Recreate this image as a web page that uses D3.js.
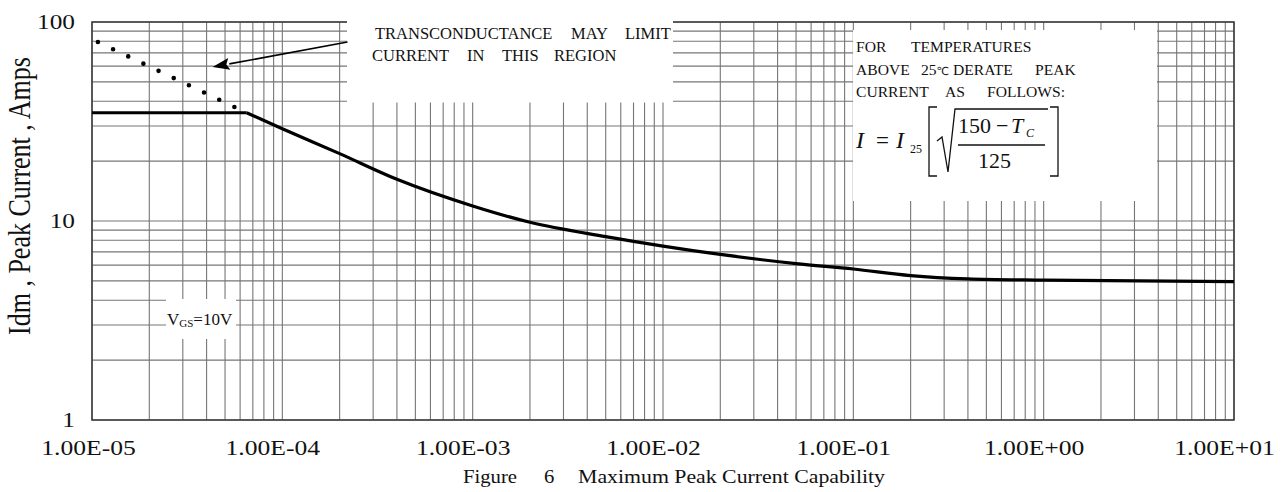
<!DOCTYPE html>
<html><head><meta charset="utf-8">
<script src="https://cdn.jsdelivr.net/npm/d3@7"></script>
<style>
html,body{margin:0;padding:0;background:#fff;}
svg{display:block;font-family:"Liberation Serif","Times New Roman",serif;}
</style></head><body>
<svg id="chart" width="1282" height="492"></svg>
<script>
// ---- data ----
const xTickValues = [1e-5, 1e-4, 1e-3, 1e-2, 1e-1, 1, 10];
const xTickLabels = ["1.00E-05", "1.00E-04", "1.00E-03", "1.00E-02", "1.00E-01", "1.00E+00", "1.00E+01"];
const yTickValues = [1, 10, 100];
const yTickLabels = ["1", "10", "100"];
// pulse width (s) vs peak current (A), VGS = 10 V
const pulseWidth  = [1e-5, 6.5e-5, 1e-4, 2e-4, 4e-4, 1e-3, 2e-3, 5e-3, 1e-2, 2e-2, 5e-2, 0.1, 0.2, 0.4, 1, 10];
const peakCurrent = [35,   35,     29.1, 21.8, 16.2, 11.9, 9.85, 8.35, 7.48, 6.79, 6.11, 5.74, 5.32, 5.12, 5.04, 4.96];
// transconductance-limited region (dotted)
const transPulse   = [1e-5, 5.6e-5];
const transCurrent = [82, 37.4];
// annotation arrow (tail -> tip) in data units
const arrowPulse   = [2.2e-4, 4.3e-5];
const arrowCurrent = [79.4, 59.4];
const yTitle = "Idm , Peak Current , Amps";
const caption = ["Figure", "6", "Maximum Peak Current Capability"];

// ---- layout ----
const L = 92, R = 1234, T = 22, B = 420;
const svg = d3.select("#chart");
const x = d3.scaleLog().domain([1e-5, 10]).range([L, R]);
const y = d3.scaleLog().domain([1, 100]).range([B, T]);

// grid
const grid = svg.append("g").attr("stroke", "#767676").attr("stroke-width", 1.1);
grid.selectAll("line.v").data(x.ticks()).join("line").attr("class", "v")
  .attr("x1", d => x(d)).attr("x2", d => x(d)).attr("y1", T).attr("y2", B);
grid.selectAll("line.h").data(y.ticks()).join("line").attr("class", "h")
  .attr("x1", L).attr("x2", R).attr("y1", d => y(d)).attr("y2", d => y(d));

// frame
svg.append("rect").attr("x", L).attr("y", T).attr("width", R - L).attr("height", B - T)
  .attr("fill", "none").attr("stroke", "#3a3a3a").attr("stroke-width", 1.5);

// white annotation boxes
const boxes = [[347, 17, 326, 85.5], [853, 30, 304, 171], [166, 299, 70, 40]];
svg.selectAll("rect.box").data(boxes).join("rect").attr("class", "box")
  .attr("x", d => d[0]).attr("y", d => d[1]).attr("width", d => d[2]).attr("height", d => d[3])
  .attr("fill", "#fff");

// curve
const pts = pulseWidth.map((t, i) => [t, peakCurrent[i]]);
const lineLin = d3.line().x(d => x(d[0])).y(d => y(d[1]));
const lineSmooth = d3.line().x(d => x(d[0])).y(d => y(d[1])).curve(d3.curveMonotoneX);
svg.append("path").attr("d", lineLin(pts.slice(0, 2))).attr("fill", "none")
  .attr("stroke", "#000").attr("stroke-width", 3.2);
svg.append("path").attr("d", lineSmooth(pts.slice(1))).attr("fill", "none")
  .attr("stroke", "#000").attr("stroke-width", 3.2).attr("stroke-linejoin", "round");

// dotted transconductance line
const tpts = transPulse.map((t, i) => [t, transCurrent[i]]);
const dotPath = svg.append("path").attr("d", lineLin(tpts)).attr("fill", "none")
  .attr("stroke", "#000").attr("stroke-width", 4.6).attr("stroke-linecap", "round");
const dlen = dotPath.node().getTotalLength();
const gap = 16.8;
dotPath.attr("stroke-dasharray", `0 ${gap}`).attr("stroke-dashoffset", -(dlen % gap) + 0.01);

// arrow
const ax0 = x(arrowPulse[0]), ay0 = y(arrowCurrent[0]), ax1 = x(arrowPulse[1]), ay1 = y(arrowCurrent[1]);
const ang = Math.atan2(ay1 - ay0, ax1 - ax0);
const hl = 17, hw = 6;
const bx = ax1 - hl * Math.cos(ang), by = ay1 - hl * Math.sin(ang);
svg.append("line").attr("x1", ax0).attr("y1", ay0).attr("x2", bx).attr("y2", by)
  .attr("stroke", "#000").attr("stroke-width", 1.6);
svg.append("path").attr("fill", "#000")
  .attr("d", `M${ax1},${ay1}L${bx + hw * Math.sin(ang)},${by - hw * Math.cos(ang)}L${bx + 3 * Math.cos(ang)},${by + 3 * Math.sin(ang)}L${bx - hw * Math.sin(ang)},${by + hw * Math.cos(ang)}Z`);

// axes
const xAxis = svg.append("g").attr("transform", `translate(0,${B})`)
  .call(d3.axisBottom(x).tickValues(xTickValues).tickSize(0).tickFormat((d, i) => xTickLabels[i]));
xAxis.select(".domain").remove();
xAxis.selectAll("text").attr("y", null).attr("dy", null)
  .attr("font-family", "Liberation Serif").attr("font-size", 21).attr("fill", "#111")
  .attr("transform", (d, i) => `translate(${i === 0 ? -4 : -10},35) scale(1.22,1)`);

const yAxis = svg.append("g").attr("transform", `translate(${L},0)`)
  .call(d3.axisLeft(y).tickValues(yTickValues).tickSize(0).tickFormat((d, i) => yTickLabels[i]));
yAxis.select(".domain").remove();
yAxis.selectAll("text").attr("x", null).attr("dy", null)
  .attr("font-family", "Liberation Serif").attr("font-size", 22).attr("fill", "#111")
  .attr("transform", "translate(-17,6) scale(1.15,1)");

// y title
svg.append("text").attr("transform", "translate(30,196) scale(1.2,1) rotate(-90)")
  .attr("text-anchor", "middle").attr("font-size", 26).attr("fill", "#111").text(yTitle);

// caption
svg.append("text").attr("transform", "translate(463,483) scale(1.15,1)").attr("font-size", 18).attr("fill", "#111").text(caption[0]);
svg.append("text").attr("transform", "translate(544,483) scale(1.15,1)").attr("font-size", 18).attr("fill", "#111").text(caption[1]);
svg.append("text").attr("x", 578).attr("y", 483).attr("font-size", 18).attr("fill", "#111")
  .attr("textLength", 307).attr("lengthAdjust", "spacingAndGlyphs").text(caption[2]);

// annotation texts
function words(lines, size) {
  lines.forEach(ln => {
    ln.w.forEach(([t, wx]) => {
      svg.append("text").attr("x", wx).attr("y", ln.y).attr("font-size", size).attr("fill", "#111").text(t);
    });
  });
}
words([
  {y: 39, w: [["TRANSCONDUCTANCE", 375], ["MAY", 571], ["LIMIT", 625]]},
  {y: 61, w: [["CURRENT", 372], ["IN", 467], ["THIS", 502], ["REGION", 554]]}
], 16.5);
words([
  {y: 52, w: [["FOR", 856], ["TEMPERATURES", 911]]},
  {y: 75, w: [["ABOVE", 856], ["DERATE", 953], ["PEAK", 1035]]},
  {y: 97, w: [["CURRENT", 856], ["AS", 945], ["FOLLOWS:", 987]]}
], 15.6);
const deg = svg.append("text").attr("x", 921).attr("y", 75).attr("font-size", 15.6).attr("fill", "#111");
deg.append("tspan").text("25");
deg.append("tspan").attr("font-size", 11).attr("font-family", "DejaVu Sans").text("℃");

// formula I = I25 [ sqrt((150 - Tc)/125) ]
const f = svg.append("g").attr("fill", "#111");
f.append("text").attr("x", 856).attr("y", 148).attr("font-size", 24).attr("font-style", "italic").text("I");
f.append("text").attr("x", 876).attr("y", 148).attr("font-size", 23).text("=");
f.append("text").attr("x", 896).attr("y", 148).attr("font-size", 24).attr("font-style", "italic").text("I");
f.append("text").attr("x", 910).attr("y", 153).attr("font-size", 12).text("25");
f.append("text").attr("x", 958).attr("y", 133).attr("font-size", 22).text("150");
f.append("text").attr("x", 996).attr("y", 133).attr("font-size", 22).text("−");
f.append("text").attr("x", 1011).attr("y", 133).attr("font-size", 22).attr("font-style", "italic").text("T");
f.append("text").attr("x", 1026).attr("y", 137).attr("font-size", 12).attr("font-style", "italic").text("C");
f.append("text").attr("x", 978).attr("y", 168).attr("font-size", 22).text("125");
const fs = svg.append("g").attr("fill", "none").attr("stroke", "#111").attr("stroke-width", 1.3);
fs.append("path").attr("d", "M937,107H929V176H937");
fs.append("path").attr("d", "M1050,107H1058V176H1050");
fs.append("path").attr("d", "M937,141L942,137L948,172L955,109H1048");
fs.append("path").attr("d", "M958,145H1045");

// VGS label
const vg = svg.append("text").attr("x", 167).attr("y", 325).attr("font-size", 17).attr("fill", "#111");
vg.append("tspan").text("V");
vg.append("tspan").attr("font-size", 11).attr("dy", 2).text("GS");
vg.append("tspan").attr("dy", -2).text("=10V");
</script>
</body></html>
